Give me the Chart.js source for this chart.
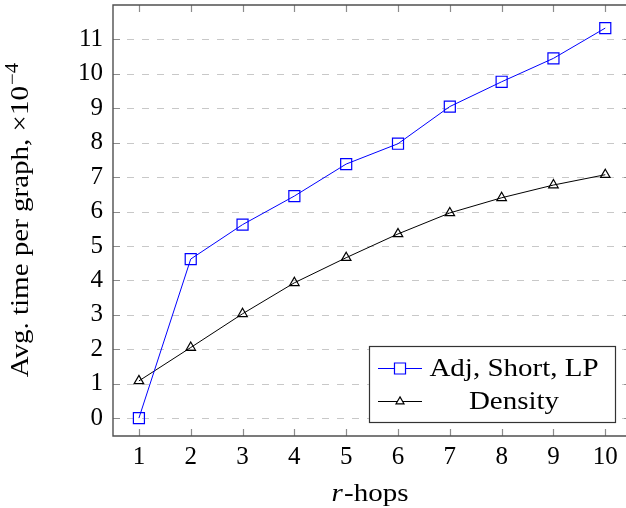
<!DOCTYPE html>
<html><head><meta charset="utf-8">
<script src="https://cdn.jsdelivr.net/npm/chart.js@4"></script>
<style>html,body{margin:0;padding:0;background:#fff}#wrap{width:626px;height:508px}</style>
</head><body><div id="wrap"><canvas id="c" width="626" height="508"></canvas></div>
<script>
const hops = [1, 2, 3, 4, 5, 6, 7, 8, 9, 10];
const adjShortLP = [0, 4.62, 5.62, 6.45, 7.38, 7.97, 9.05, 9.77, 10.45, 11.33];
const density = [1.08, 2.05, 3.03, 3.93, 4.66, 5.35, 5.96, 6.40, 6.77, 7.07];
const yTickValues = [0, 1, 2, 3, 4, 5, 6, 7, 8, 9, 10, 11];
const seriesNames = ['Adj, Short, LP', 'Density'];
const xTitleItalic = 'r';
const xTitleRest = '-hops';
const yTitleMain = 'Avg. time per graph, \u00d710';
const yTitleExp = '\u22124';

const SERIF = '"Liberation Serif", "DejaVu Serif", serif';
const FONT_SIZE = 25;
const STRETCH = 1.16;

const frame = {
  id: 'frame',
  beforeDatasetsDraw(chart) {
    const {ctx, chartArea: a, scales: {x, y}} = chart;
    ctx.save();
    ctx.strokeStyle = '#c8c8c8';
    ctx.lineWidth = 1;
    ctx.setLineDash([7, 8]);
    yTickValues.forEach(v => {
      const py = Math.round(y.getPixelForValue(v)) + 0.5;
      ctx.beginPath();
      ctx.lineDashOffset = -14;
      ctx.moveTo(a.left, py); ctx.lineTo(a.right, py); ctx.stroke();
    });
    ctx.setLineDash([]);
    ctx.strokeStyle = '#8c8c8c';
    ctx.lineWidth = 1.2;
    const xr = x.getPixelForValue(10.5);
    yTickValues.forEach(v => {
      const py = Math.round(y.getPixelForValue(v)) + 0.5;
      ctx.beginPath();
      ctx.moveTo(a.left, py); ctx.lineTo(a.left + 7, py);
      ctx.moveTo(xr, py); ctx.lineTo(xr - 7, py);
      ctx.stroke();
    });
    hops.forEach(v => {
      const px = Math.round(x.getPixelForValue(v)) + 0.5;
      ctx.beginPath();
      ctx.moveTo(px, a.bottom); ctx.lineTo(px, a.bottom - 7);
      ctx.moveTo(px, a.top); ctx.lineTo(px, a.top + 7);
      ctx.stroke();
    });
    ctx.strokeStyle = '#505050';
    ctx.lineWidth = 1.4;
    ctx.beginPath();
    ctx.moveTo(xr, a.top); ctx.lineTo(a.left, a.top); ctx.lineTo(a.left, a.bottom); ctx.lineTo(xr, a.bottom);
    ctx.stroke();
    ctx.restore();
  },
  afterDraw(chart) {
    const {ctx} = chart;
    const font = FONT_SIZE + 'px ' + SERIF;
    const ifont = 'italic ' + FONT_SIZE + 'px ' + SERIF;
    const sfont = Math.round(FONT_SIZE * 0.7) + 'px ' + SERIF;
    ctx.save();
    ctx.fillStyle = '#000';
    ctx.textBaseline = 'alphabetic';
    // x title
    ctx.font = ifont;
    const w1 = ctx.measureText(xTitleItalic).width;
    ctx.font = font;
    const w2 = ctx.measureText(xTitleRest).width;
    ctx.save();
    ctx.translate(370, 501);
    ctx.scale(STRETCH, 1);
    let sx = -(w1 + w2 + 1) / 2;
    ctx.font = ifont;
    ctx.fillText(xTitleItalic, sx, 0);
    ctx.font = font;
    ctx.fillText(xTitleRest, sx + w1 + 1, 0);
    ctx.restore();
    // y title
    ctx.save();
    ctx.translate(28, 220);
    ctx.rotate(-Math.PI / 2);
    ctx.scale(STRETCH, 1);
    ctx.font = font;
    const m = ctx.measureText(yTitleMain).width;
    ctx.font = sfont;
    const e = ctx.measureText(yTitleExp).width;
    const start = -(m + e + 1) / 2;
    ctx.font = font;
    ctx.fillText(yTitleMain, start, 0);
    ctx.font = sfont;
    ctx.fillText(yTitleExp, start + m + 1, -10);
    ctx.restore();
    ctx.restore();

    // legend
    ctx.save();
    const lx = 369, ly = 346, lw = 246, lh = 76;
    ctx.fillStyle = '#fff';
    ctx.fillRect(lx, ly, lw, lh);
    ctx.strokeStyle = '#333';
    ctx.lineWidth = 1.2;
    ctx.strokeRect(lx + 0.5, ly + 0.5, lw, lh);
    const rows = [368, 401];
    chart.data.datasets.forEach((ds, i) => {
      const ry = rows[i] + 0.5;
      ctx.strokeStyle = ds.borderColor;
      ctx.lineWidth = 1;
      ctx.beginPath(); ctx.moveTo(378, ry); ctx.lineTo(422, ry); ctx.stroke();
      ctx.fillStyle = '#fff';
      ctx.strokeStyle = ds.pointBorderColor;
      ctx.lineWidth = 1.2;
      Chart.helpers.drawPoint(ctx, {pointStyle: ds.pointStyle, radius: ds.pointStyle === 'rect' ? 7.8 : 4.6, borderWidth: 1.2}, 400, ry);
      ctx.save();
      ctx.translate(514, ry + 1);
      ctx.scale(STRETCH, 1);
      ctx.fillStyle = '#000';
      ctx.font = font;
      ctx.textAlign = 'center';
      ctx.textBaseline = 'middle';
      ctx.fillText(ds.label, 0, 0);
      ctx.restore();
    });
    ctx.restore();
  }
};

new Chart(document.getElementById('c'), {
  type: 'line',
  data: {
    datasets: [
      {
        label: seriesNames[0],
        data: hops.map((h, i) => ({x: h, y: adjShortLP[i]})),
        borderColor: '#0000ff', backgroundColor: '#ffffff',
        borderWidth: 1, pointStyle: 'rect', pointRadius: 7.8,
        pointBorderWidth: 1.2, pointBorderColor: '#0000ff', pointBackgroundColor: 'rgba(255,255,255,0)',
        tension: 0
      },
      {
        label: seriesNames[1],
        data: hops.map((h, i) => ({x: h, y: density[i]})),
        borderColor: '#000000', backgroundColor: '#ffffff',
        borderWidth: 1, pointStyle: 'triangle', pointRadius: 5.5,
        pointBorderWidth: 1.2, pointBorderColor: '#000000', pointBackgroundColor: 'rgba(255,255,255,0)',
        tension: 0
      }
    ]
  },
  options: {
    responsive: false,
    animation: false,
    devicePixelRatio: 1,
    layout: {autoPadding: false, padding: {top: 5, left: 0, right: 0, bottom: 0}},
    plugins: {legend: {display: false}, tooltip: {enabled: false}},
    scales: {
      x: {
        type: 'linear', min: 0.5, max: 10.4,
        afterBuildTicks: s => { s.ticks = hops.map(v => ({value: v})); },
        afterFit: s => { s.height = 72; s.paddingLeft = 0; s.paddingRight = 0; },
        grid: {display: false, drawTicks: false},
        border: {display: false},
        ticks: {color: '#000', font: {family: SERIF, size: FONT_SIZE}, padding: 6, maxRotation: 0, autoSkip: false}
      },
      y: {
        type: 'linear', min: -0.52, max: 12.0,
        afterBuildTicks: s => { s.ticks = yTickValues.map(v => ({value: v})); },
        afterFit: s => { s.width = 113; s.paddingTop = 0; s.paddingBottom = 0; },
        grid: {display: false, drawTicks: false},
        border: {display: false},
        ticks: {color: '#000', font: {family: SERIF, size: FONT_SIZE}, padding: 10, autoSkip: false}
      }
    }
  },
  plugins: [frame]
});
</script>
</body></html>
